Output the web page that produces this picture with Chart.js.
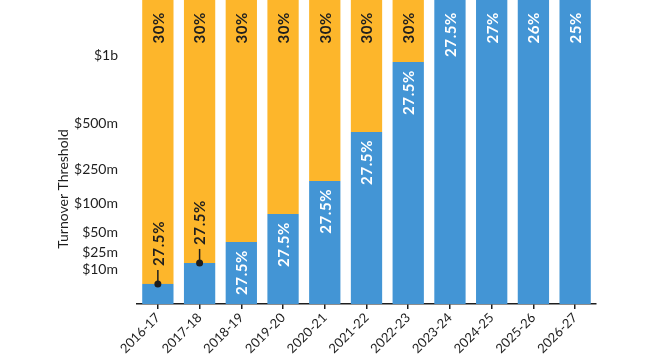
<!DOCTYPE html>
<html>
<head>
<meta charset="utf-8">
<script src="https://cdn.jsdelivr.net/npm/chart.js@4/dist/chart.umd.min.js"></script>
<style>
  html, body { margin: 0; padding: 0; background: #fff; }
  #wrap { width: 650px; height: 359px; }
</style>
</head>
<body>
<div id="wrap"><canvas id="chart"></canvas></div>
<script>
// financial years
const years = ["2016-17", "2017-18", "2018-19", "2019-20", "2020-21", "2021-22",
  "2022-23", "2023-24", "2024-25", "2025-26", "2026-27"];

// threshold position on the (non-linear) axis, 0..100
const lowRateShare = [6.6, 13.5, 20.4, 29.6, 40.5, 56.6, 79.6, 100, 100, 100, 100];
const lowRateLabels = ["27.5%", "27.5%", "27.5%", "27.5%", "27.5%", "27.5%", "27.5%",
  "27.5%", "27%", "26%", "25%"];
const highRateLabels = ["30%", "30%", "30%", "30%", "30%", "30%", "30%", "", "", "", ""];
const highRateShare = lowRateShare.map((v) => 100 - v);

// y axis tick labels and where they sit on the axis
const tickLabels = ["$10m", "$25m", "$50m", "$100m", "$250m", "$500m", "$1b"];
const tickValues = [11.2, 16.8, 23.4, 33.2, 44.1, 59.5, 81.9];

const blue = "#4395d5";
const orange = "#fdb62b";
const dark = "#1e1e1e";

const labelPlugin = {
  id: "barLabels",
  afterDatasetsDraw(chart) {
    const ctx = chart.ctx;
    const low = chart.getDatasetMeta(0).data;
    const high = chart.getDatasetMeta(1).data;
    ctx.save();
    ctx.font = "bold 15px Lato";
    ctx.letterSpacing = "0.6px";
    ctx.textBaseline = "middle";

    low.forEach((bar, i) => {
      const x = bar.x;
      const top = bar.y;
      // small blue segments get a callout above them
      if (i < 2) {
        ctx.fillStyle = dark;
        ctx.strokeStyle = dark;
        ctx.lineWidth = 1.5;
        ctx.beginPath();
        ctx.arc(x, top, 3.5, 0, Math.PI * 2);
        ctx.fill();
        ctx.beginPath();
        ctx.moveTo(x, top);
        ctx.lineTo(x, top - 14);
        ctx.stroke();
        ctx.save();
        ctx.translate(x, top - 18);
        ctx.rotate(-Math.PI / 2);
        ctx.textAlign = "left";
        ctx.fillText(lowRateLabels[i], 0, 1);
        ctx.restore();
      } else {
        ctx.fillStyle = "#fff";
        ctx.save();
        const y = highRateShare[i] > 0 ? top + 8 : top + 12;
        ctx.translate(x, y);
        ctx.rotate(-Math.PI / 2);
        ctx.textAlign = "right";
        ctx.fillText(lowRateLabels[i], 0, 1);
        ctx.restore();
      }
    });

    high.forEach((bar, i) => {
      if (!highRateLabels[i]) return;
      ctx.fillStyle = dark;
      ctx.save();
      ctx.translate(bar.x, bar.y + 12);
      ctx.rotate(-Math.PI / 2);
      ctx.textAlign = "right";
      ctx.fillText(highRateLabels[i], 0, 1);
      ctx.restore();
    });

    // axis title
    ctx.save();
    ctx.letterSpacing = "0px";
    ctx.font = "14px Lato";
    ctx.fillStyle = dark;
    ctx.translate(63, 189);
    ctx.rotate(-Math.PI / 2);
    ctx.textAlign = "center";
    ctx.fillText("Turnover Threshold", 0, 0);
    ctx.restore();

    ctx.restore();
  }
};

new Chart(document.getElementById("chart"), {
  type: "bar",
  data: {
    labels: years,
    datasets: [
      {
        label: "27.5% and below",
        data: lowRateShare,
        backgroundColor: blue,
        barPercentage: 0.75,
        categoryPercentage: 1,
      },
      {
        label: "30%",
        data: highRateShare,
        backgroundColor: orange,
        barPercentage: 0.75,
        categoryPercentage: 1,
      },
    ],
  },
  options: {
    responsive: true,
    maintainAspectRatio: false,
    animation: false,
    layout: { padding: { top: 0, left: 0, bottom: 0, right: 54 } },
    plugins: {
      legend: { display: false },
      tooltip: { enabled: false },
    },
    scales: {
      x: {
        stacked: true,
        grid: {
          offset: false,
          drawOnChartArea: false,
          drawTicks: true,
          tickLength: 5,
          color: dark,
          lineWidth: 1.5,
        },
        border: { display: true, color: dark, width: 1.5 },
        ticks: {
          color: dark,
          font: { family: "Lato", size: 13 },
          maxRotation: 45,
          minRotation: 45,
          padding: 1,
          autoSkip: false,
        },
        afterFit(scale) {
          scale.height = 55;
          scale.paddingLeft = 0;
          scale.paddingRight = 0;
        },
      },
      y: {
        stacked: true,
        min: 0,
        max: 100,
        grid: { display: false },
        border: { display: false },
        ticks: {
          color: dark,
          font: { family: "Lato", size: 14 },
          padding: 11,
          callback: (value) => {
            const idx = tickValues.indexOf(value);
            return idx >= 0 ? tickLabels[idx] : "";
          },
        },
        afterBuildTicks(scale) {
          scale.ticks = tickValues.map((v) => ({ value: v }));
        },
        afterFit(scale) {
          scale.width = 137;
          scale.paddingTop = 0;
          scale.paddingBottom = 0;
        },
      },
    },
  },
  plugins: [labelPlugin],
});
</script>
</body>
</html>
